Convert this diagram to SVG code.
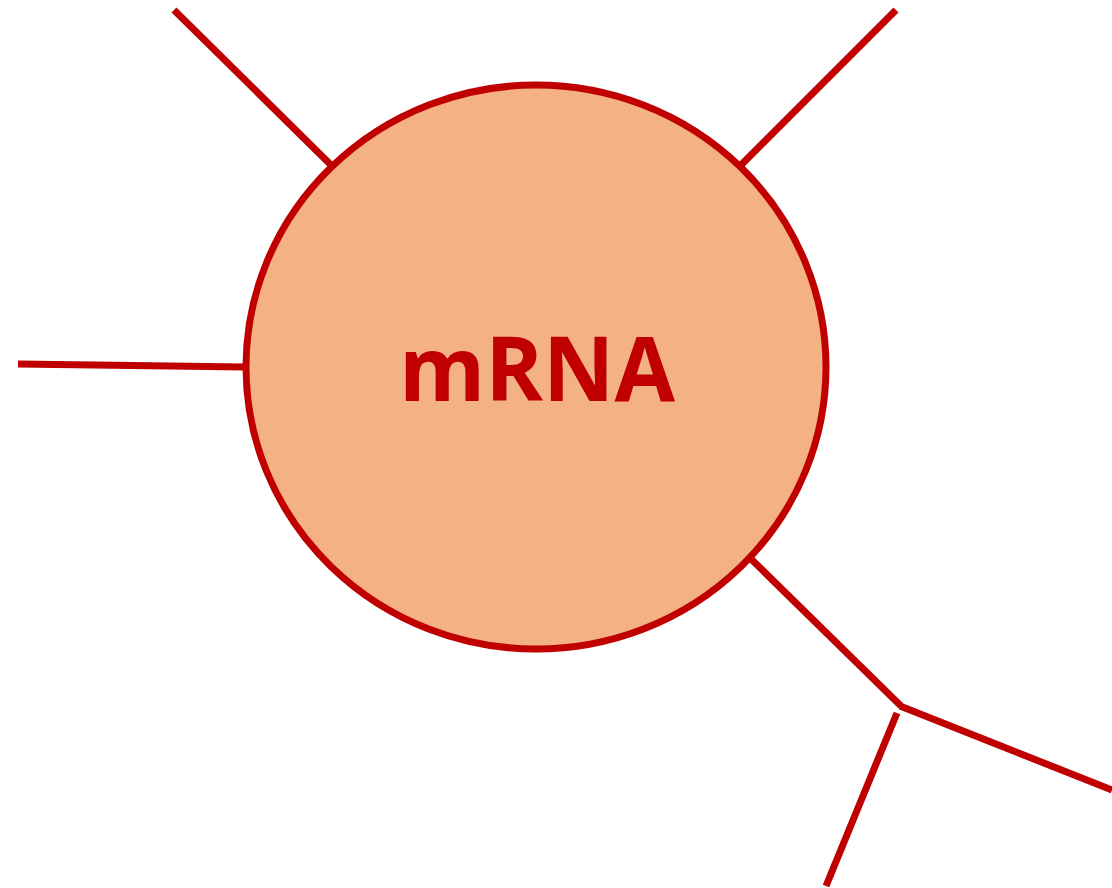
<svg xmlns="http://www.w3.org/2000/svg" width="1112" height="888" viewBox="0 0 1112 888">
<style>
.ln{stroke:#C00000;stroke-width:7;fill:none}
.lbl{font-family:"Open Sans","Liberation Sans",sans-serif;font-weight:bold;font-size:90px;fill:#C00000}
</style>
<rect width="1112" height="888" fill="#ffffff"/>
<g id="connectors">
<line class="ln" x1="174" y1="10" x2="331" y2="165"/>
<line class="ln" x1="896" y1="10" x2="741" y2="165"/>
<line class="ln" x1="18" y1="364" x2="246" y2="367"/>
<line class="ln" x1="750" y1="558" x2="901" y2="706"/>
<line class="ln" x1="900" y1="706" x2="1112" y2="790"/>
<line class="ln" x1="897" y1="713" x2="826" y2="886"/>
</g>
<g id="mrna">
<ellipse cx="536" cy="367" rx="290" ry="282" fill="#F4B183" stroke="#C00000" stroke-width="7"/>
<text class="lbl" x="537" y="401" text-anchor="middle" textLength="276" lengthAdjust="spacingAndGlyphs">mRNA</text>
</g>
</svg>
